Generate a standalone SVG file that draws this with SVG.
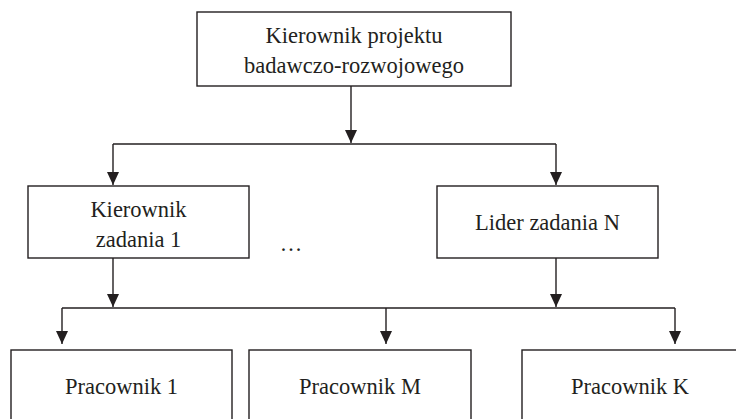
<svg xmlns="http://www.w3.org/2000/svg" width="736" height="419" viewBox="0 0 736 419">
<style>
.box{fill:#fff;stroke:#231f20;stroke-width:1.4}
.lbl{font-family:"Liberation Serif","Times New Roman","DejaVu Serif",serif;font-size:22.5px;fill:#231f20;text-anchor:middle}
.ln{fill:none;stroke:#231f20;stroke-width:1.4}
</style>
<defs>
<marker id="ah" markerUnits="userSpaceOnUse" markerWidth="13" markerHeight="12" refX="13" refY="6" orient="auto">
<path d="M0,0 L13,6 L0,12 Z" fill="#231f20"/>
</marker>
</defs>
<rect width="736" height="419" fill="#fff"/>
<g id="connectors">
<line class="ln" x1="351" y1="86" x2="351" y2="143" marker-end="url(#ah)"/>
<line class="ln" x1="113" y1="144" x2="556" y2="144"/>
<line class="ln" x1="113" y1="144" x2="113" y2="185" marker-end="url(#ah)"/>
<line class="ln" x1="556" y1="144" x2="556" y2="185" marker-end="url(#ah)"/>
<line class="ln" x1="113" y1="258" x2="113" y2="307" marker-end="url(#ah)"/>
<line class="ln" x1="556" y1="258" x2="556" y2="307" marker-end="url(#ah)"/>
<line class="ln" x1="62" y1="308" x2="675" y2="308"/>
<line class="ln" x1="62" y1="308" x2="62" y2="344" marker-end="url(#ah)"/>
<line class="ln" x1="386" y1="308" x2="386" y2="344" marker-end="url(#ah)"/>
<line class="ln" x1="675" y1="308" x2="675" y2="344" marker-end="url(#ah)"/>
</g>
<g id="top">
<rect class="box" x="197" y="12" width="314" height="74"/>
<text class="lbl" x="354" y="43">Kierownik projektu</text>
<text class="lbl" x="354" y="73">badawczo-rozwojowego</text>
</g>
<g id="task1">
<rect class="box" x="28" y="186" width="221" height="72"/>
<text class="lbl" x="138.5" y="217">Kierownik</text>
<text class="lbl" x="138.5" y="247">zadania 1</text>
</g>
<g id="ellipsis">
<text class="lbl" x="291" y="251">…</text>
</g>
<g id="taskN">
<rect class="box" x="437" y="186" width="221" height="72"/>
<text class="lbl" x="547.5" y="230">Lider zadania N</text>
</g>
<g id="worker1">
<rect class="box" x="11" y="350" width="221" height="100"/>
<text class="lbl" x="121.5" y="394">Pracownik 1</text>
</g>
<g id="workerM">
<rect class="box" x="249" y="350" width="222" height="100"/>
<text class="lbl" x="360" y="394">Pracownik M</text>
</g>
<g id="workerK">
<rect class="box" x="522" y="350" width="216" height="100"/>
<text class="lbl" x="630" y="394">Pracownik K</text>
</g>
</svg>
